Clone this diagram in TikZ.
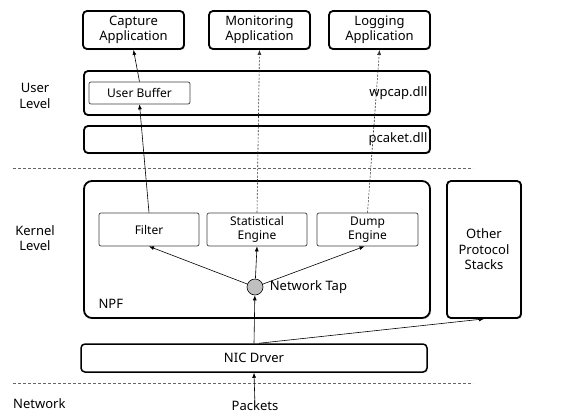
\documentclass[tikz,border=0pt]{standalone}
\usepackage{fontspec}
\setmainfont{Noto Sans}
\usetikzlibrary{arrows.meta,shadows}
\tikzset{
	layer/.style={draw, line width=1.8pt, rounded corners=4pt, fill=white, drop shadow={shadow xshift=1.2pt, shadow yshift=-1.2pt, opacity=.25}, align=center, font=\fontsize{13}{15.5}\selectfont},
	part/.style={draw=black!75, line width=.7pt, rounded corners=2pt, fill=white, align=center, font=\fontsize{12}{14}\selectfont},
	lbl/.style={align=center, font=\fontsize{13}{15.5}\selectfont},
	flow/.style={-{Latex[length=5pt,width=4pt]}, line width=.6pt},
	tapflow/.style={flow, black!80, dash pattern=on 2pt off 1.5pt},
	sep/.style={black!60, line width=.6pt, dash pattern=on 3pt off 2pt}
}
\begin{document}
\begin{tikzpicture}[x=1pt, y=-1pt]
	\useasboundingbox (0,0) rectangle (570,416);
	% levels
	\draw[sep] (13,168) -- (473,168);
	\draw[sep] (13,383) -- (473,383);
	\node[lbl] (user) at (35,96) {User\\Level};
	\node[lbl] (kern) at (35,238) {Kernel\\Level};
	\node[lbl, anchor=west, inner sep=0pt] (net) at (13,404) {Network};
	% applications
	\node[layer, minimum width=101, minimum height=38] (cap) at (133.5,30) {Capture\\Application};
	\node[layer, minimum width=101, minimum height=38] (mon) at (259.5,30) {Monitoring\\Application};
	\node[layer, minimum width=101, minimum height=38] (log) at (379.5,30) {Logging\\Application};
	% libraries
	\node[layer, minimum width=346, minimum height=44] (wpcap) at (257,93) {};
	\node[lbl, anchor=east] at (wpcap.east) {wpcap.dll};
	\node[part, minimum width=101, minimum height=22] (ub) at (139.5,93) {User Buffer};
	\node[layer, minimum width=346, minimum height=27] (pcak) at (257,139.5) {};
	\node[lbl, anchor=east] at (pcak.east) {pcaket.dll};
	% kernel
	\node[layer, rounded corners=8pt, minimum width=346, minimum height=137] (npf) at (257,249.5) {};
	\node[lbl, anchor=west] at (95,304) {NPF};
	\node[part, minimum width=100, minimum height=33] (filt) at (149,229.5) {Filter};
	\node[part, minimum width=100, minimum height=33] (stat) at (257,229.5) {Statistical\\Engine};
	\node[part, minimum width=101, minimum height=33] (dump) at (367.5,229.5) {Dump\\Engine};
	\node[circle, draw, fill=black!25, line width=.6pt, inner sep=0pt, minimum size=16, label={[lbl, label distance=3pt]right:Network Tap}] (tap) at (255,287) {};
	\node[layer, minimum width=74, minimum height=137] (other) at (484,249.5) {Other\\Protocol\\Stacks};
	\node[layer, line width=1.5pt, minimum width=346, minimum height=28] (nic) at (254,358) {NIC Drver};
	\node[lbl, inner sep=1pt] (pkt) at (255,406) {Packets};
	% flows
	\draw[flow] (ub.north) -- (cap.south);
	\draw[flow] (filt.north) -- (ub.south);
	\draw[tapflow] (stat.north) -- (mon.south);
	\draw[tapflow] (dump.north) -- (log.south);
	\draw[flow] (tap) -- (filt.south);
	\draw[flow] (tap) -- (stat.south);
	\draw[flow] (tap) -- ([xshift=-3pt]dump.south);
	\draw[flow] (nic.north) -- (tap);
	\draw[flow] ([xshift=5pt]nic.north) -- (other.south);
	\draw[flow] (pkt) -- (nic.south);
\end{tikzpicture}
\end{document}
